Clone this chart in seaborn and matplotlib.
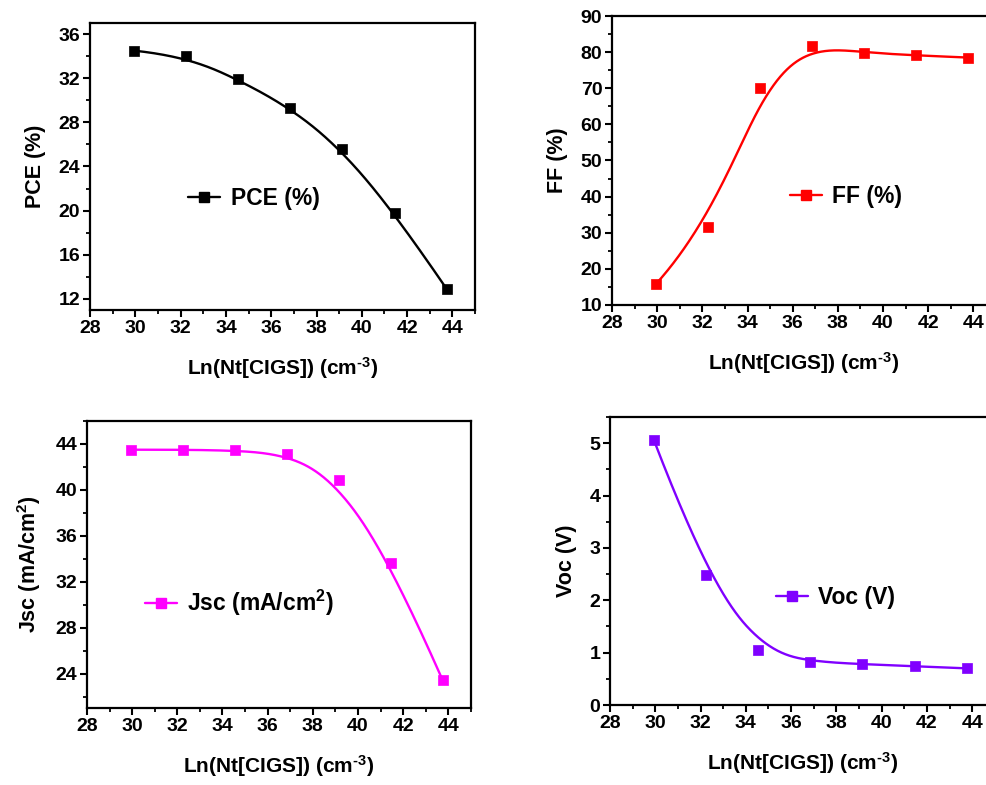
import numpy as np
import pandas as pd
import seaborn as sns
import matplotlib
matplotlib.use("Agg")
import matplotlib.pyplot as plt
from matplotlib.lines import Line2D
from matplotlib.ticker import MultipleLocator, AutoMinorLocator

# ---------------- data ----------------
ln_nt = [29.93, 32.23, 34.54, 36.84, 39.14, 41.45, 43.75]
pce = [34.5, 34.0, 31.9, 29.3, 25.6, 19.8, 12.9]
ff = [15.7, 31.6, 70.2, 81.7, 79.8, 79.1, 78.5]
jsc = [43.5, 43.5, 43.45, 43.1, 40.85, 33.65, 23.4]
voc = [5.07, 2.48, 1.05, 0.83, 0.78, 0.74, 0.70]

x_label = r"Ln(Nt[CIGS]) (cm$^{\text{-3}}$)"
labels = ["PCE (%)", "FF (%)", "Jsc (mA/cm$^{2}$)", "Voc (V)"]
ylabels = ["PCE (%)", "FF (%)", "Jsc (mA/cm$^{2}$)", "Voc (V)"]
colors = ["#000000", "#FF0000", "#FF00FF", "#8000FF"]

sns.set_theme(style="white")
plt.rcParams["font.family"] = ["Liberation Sans", "DejaVu Sans"]
plt.rcParams["font.weight"] = "bold"
plt.rcParams["axes.labelweight"] = "bold"
plt.rcParams["text.color"] = "black"
plt.rcParams["axes.labelcolor"] = "black"
plt.rcParams["xtick.color"] = "black"
plt.rcParams["ytick.color"] = "black"
plt.rcParams["mathtext.fontset"] = "custom"
plt.rcParams["mathtext.rm"] = "Liberation Sans:bold"
plt.rcParams["mathtext.bf"] = "Liberation Sans:bold"
plt.rcParams["mathtext.it"] = "Liberation Sans:bold"
plt.rcParams["mathtext.default"] = "rm"


def bspline_curve(x, y, degree=3, n=400):
    """Clamped uniform B-spline using the data points as control points
    (like Origin's 'B-Spline' line connection)."""
    P = np.column_stack([np.asarray(x, float), np.asarray(y, float)])
    m = len(P)
    p = degree
    inner = np.arange(1, m - p)
    knots = np.concatenate([np.zeros(p + 1), inner, np.full(p + 1, m - p)]).astype(float)
    ts = np.linspace(0, m - p, n)
    ts[-1] -= 1e-9

    def basis(i, k, t):
        if k == 0:
            return np.where((knots[i] <= t) & (t < knots[i + 1]), 1.0, 0.0)
        out = np.zeros_like(t)
        d1 = knots[i + k] - knots[i]
        d2 = knots[i + k + 1] - knots[i + 1]
        if d1 > 0:
            out += (t - knots[i]) / d1 * basis(i, k - 1, t)
        if d2 > 0:
            out += (knots[i + k + 1] - t) / d2 * basis(i + 1, k - 1, t)
        return out

    B = np.column_stack([basis(i, p, ts) for i in range(m)])
    C = B @ P
    return C[:, 0], C[:, 1]


fig = plt.figure(figsize=(9.87, 7.85), dpi=100)

# axes positions [left, bottom, width, height] in figure fraction
positions = [
    [0.0912, 0.6051, 0.3901, 0.3656],
    [0.6201, 0.6115, 0.3890, 0.3681],
    [0.0881, 0.0981, 0.3891, 0.3656],
    [0.6180, 0.1019, 0.3900, 0.3669],
]
series = [pce, ff, jsc, voc]
ylims = [(11, 37), (10, 90), (21, 46), (0, 5.5)]
ymajor = [4, 10, 4, 1]
leg_pos = [(0.255, 0.39), (0.4635, 0.374), (0.151, 0.366), (0.431, 0.372)]

for k in range(4):
    ax = fig.add_axes(positions[k])
    xs, ys = bspline_curve(ln_nt, series[k])
    sns.lineplot(x=xs, y=ys, ax=ax, color=colors[k], linewidth=1.7, sort=False)
    sns.scatterplot(x=ln_nt, y=series[k], ax=ax, color=colors[k], marker="s",
                    s=50, edgecolor=colors[k], linewidth=0.5, zorder=3)
    ax.set_xlim(28, 45)
    ax.set_ylim(*ylims[k])
    ax.xaxis.set_major_locator(MultipleLocator(2))
    ax.xaxis.set_minor_locator(MultipleLocator(1))
    ax.yaxis.set_major_locator(MultipleLocator(ymajor[k]))
    ax.yaxis.set_minor_locator(AutoMinorLocator(2))
    ax.tick_params(axis="both", which="major", direction="out", length=5, width=1.5,
                   labelsize=14, pad=2, bottom=True, left=True, top=False, right=False,
                   color="black", labelcolor="black")
    ax.tick_params(axis="both", which="minor", direction="out", length=3, width=1.3,
                   bottom=True, left=True, top=False, right=False, color="black")
    for lab in ax.get_xticklabels() + ax.get_yticklabels():
        lab.set_fontweight("bold")
    for sp in ax.spines.values():
        sp.set_linewidth(1.6)
        sp.set_color("black")
    ax.set_xlabel(x_label, fontsize=15, fontweight="bold", labelpad=13, color="black")
    ax.set_ylabel(ylabels[k], fontsize=15.5, fontweight="bold", labelpad=9, color="black")
    ax.set_facecolor("white")
    handle = Line2D([], [], color=colors[k], marker="s", markersize=6.5,
                    linewidth=1.7)
    leg = ax.legend(handles=[handle], labels=[labels[k]], loc="center left",
                    bbox_to_anchor=leg_pos[k], frameon=False, borderpad=0,
                    borderaxespad=0, handlelength=1.4, handletextpad=0.45,
                    prop={"size": 16.5, "weight": "bold"})
    for t in leg.get_texts():
        t.set_color("black")

fig.savefig("out.png", dpi=100, facecolor="white")
